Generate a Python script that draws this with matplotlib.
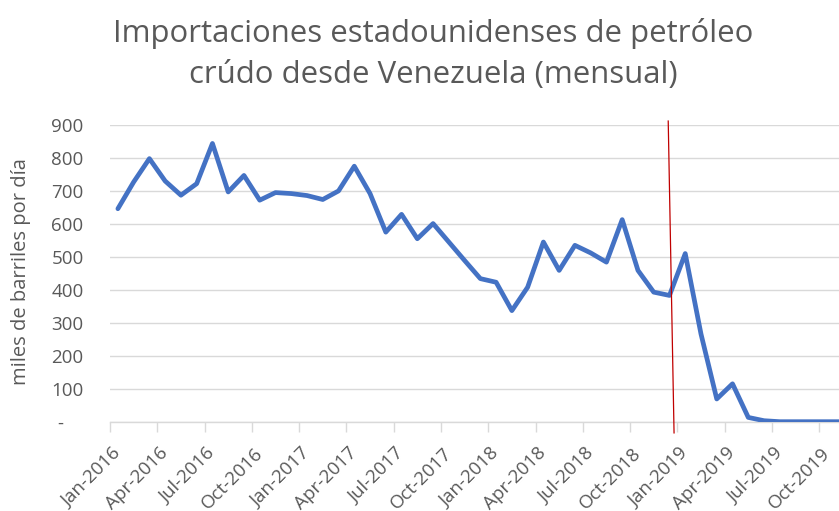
import matplotlib
matplotlib.use("Agg")
import matplotlib.pyplot as plt
import matplotlib.transforms as mtransforms

# monthly imports, Jan-2016 onwards (miles de barriles por dia)
imports = [646, 727, 798, 730, 687, 722, 844, 697, 747, 672, 695, 692,
           686, 674, 700, 775, 692, 575, 629, 555, 601, 545, 489, 434,
           423, 337, 408, 545, 459, 535, 512, 484, 613, 459, 393, 383,
           510, 266, 69, 115, 13, 3, 0, 0, 0, 0, 0]
tick_labels = ["Jan-2016", "Apr-2016", "Jul-2016", "Oct-2016",
               "Jan-2017", "Apr-2017", "Jul-2017", "Oct-2017",
               "Jan-2018", "Apr-2018", "Jul-2018", "Oct-2018",
               "Jan-2019", "Apr-2019", "Jul-2019", "Oct-2019"]
y_ticks = [0, 100, 200, 300, 400, 500, 600, 700, 800, 900]
y_tick_labels = ["-    ", "100", "200", "300", "400", "500", "600", "700", "800", "900"]
# hand drawn red marker line (sanctions, Jan-2019)
marker_x = [34.92, 35.29]
marker_y = [912, -34]

title = "Importaciones estadounidenses de petróleo\ncrúdo desde Venezuela (mensual)"
gray = "#595959"

plt.rcParams["font.family"] = ["Open Sans", "DejaVu Sans"]

fig = plt.figure(figsize=(8.39, 5.11), dpi=100)
ax = fig.add_axes([110 / 839, 1 - 421.7 / 511, 1 - 110 / 839, (421.7 - 125) / 511])

months = list(range(len(imports)))
ax.plot(months, imports, color="#4472C4", lw=3.4, solid_joinstyle="round",
        solid_capstyle="round", zorder=3)
ax.plot(marker_x, marker_y, color="#C00000", lw=0.9, clip_on=False, zorder=4)

ax.set_xlim(-0.5, -0.5 + (839 - 110) / 15.76)
ax.set_ylim(0, 900)

ax.set_yticks(y_ticks)
ax.set_yticklabels(y_tick_labels)
ax.tick_params(axis="y", length=0, pad=19, labelsize=13.5, labelcolor=gray)
ax.yaxis.grid(True, color="#D9D9D9", lw=1.0)
ax.set_axisbelow(True)

ax.set_xticks([-0.5 + 3 * k for k in range(len(tick_labels))])
ax.set_xticklabels(tick_labels, rotation=45, ha="right", va="center",
                   rotation_mode="anchor")
ax.tick_params(axis="x", length=7, width=1, color="#D9D9D9",
               labelsize=13.5, labelcolor=gray, pad=0)
shift = mtransforms.ScaledTranslation(8 / 100, -19 / 100, fig.dpi_scale_trans)
for lab in ax.get_xticklabels():
    lab.set_transform(lab.get_transform() + shift)

for side in ["top", "right", "left"]:
    ax.spines[side].set_visible(False)
ax.spines["bottom"].set_color("#D9D9D9")
ax.spines["bottom"].set_linewidth(1.0)

fig.text(21 / 839, 1 - 272 / 511, "miles de barriles por día", rotation=90,
         ha="center", va="center", fontsize=14.5, color=gray)
fig.text(433 / 839, 1 - 54 / 511, title, ha="center", va="center",
         fontsize=22.4, color=gray, linespacing=1.48)

fig.savefig("out.png", dpi=100)
